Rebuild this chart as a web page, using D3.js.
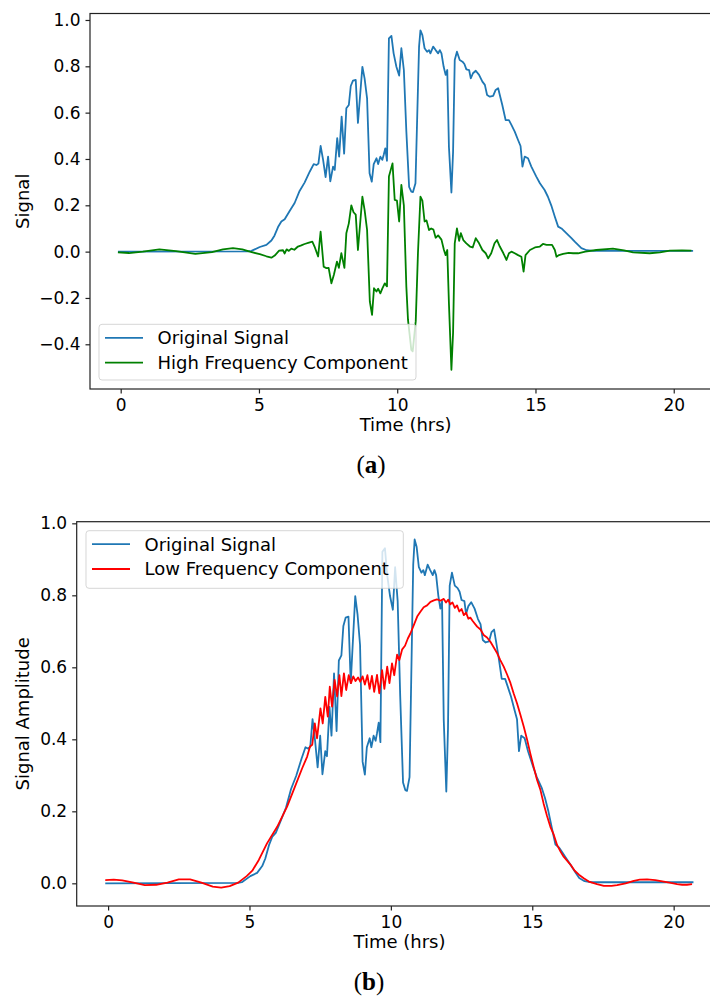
<!DOCTYPE html>
<html>
<head>
<meta charset="utf-8">
<script src="https://cdn.jsdelivr.net/npm/d3@7"></script>
<style>
  body { margin: 0; background: #fff; }
  svg { display: block; font-family: "DejaVu Sans", sans-serif; }
  .tick text { fill: #000; }
  .tick line { stroke: #222; stroke-width: 1.2; }
</style>
</head>
<body>
<svg id="viz"></svg>
<script>
// ---- data ----
const xTicks = [0, 5, 10, 15, 20];
const yTicksTop = [-0.4, -0.2, 0.0, 0.2, 0.4, 0.6, 0.8, 1.0];
const yTicksBottom = [0.0, 0.2, 0.4, 0.6, 0.8, 1.0];

// original signal (same series in both panels)
const origTime = [-0.1, 4.6, 4.73, 5.03, 5.27, 5.45, 5.56, 5.69, 5.81, 5.93, 6.11, 6.29, 6.47, 6.65, 6.84, 6.98,
  7.08, 7.15, 7.23, 7.32, 7.41, 7.5, 7.58, 7.68, 7.74, 7.83, 7.9, 7.99, 8.08, 8.16, 8.25, 8.32, 8.4, 8.5, 8.58,
  8.74, 8.82, 8.91, 9.0, 9.08, 9.15, 9.25, 9.31, 9.39, 9.46, 9.51, 9.57, 9.63, 9.7, 9.79, 9.87, 9.97, 10.07,
  10.15, 10.24, 10.33, 10.43, 10.51, 10.57, 10.66, 10.72, 10.79, 10.84, 10.91, 10.99, 11.08, 11.15, 11.2, 11.3,
  11.39, 11.48, 11.54, 11.6, 11.68, 11.75, 11.81, 11.87, 11.96, 12.02, 12.08, 12.16, 12.26, 12.36, 12.43, 12.5,
  12.6, 12.66, 12.74, 12.84, 12.96, 13.08, 13.17, 13.25, 13.35, 13.47, 13.56, 13.65, 13.71, 13.8, 13.92, 14.04,
  14.13, 14.25, 14.37, 14.46, 14.53, 14.61, 14.73, 14.85, 15.03, 15.16, 15.33, 15.45, 15.57, 15.7, 15.82, 15.94,
  16.06, 16.18, 16.3, 16.42, 16.54, 16.66, 16.85, 17.1, 20.7];
const origValue = [0.0, 0.001, 0.003, 0.02, 0.029, 0.048, 0.069, 0.106, 0.13, 0.14, 0.175, 0.21, 0.262, 0.298, 0.346, 0.378,
  0.374, 0.38, 0.456, 0.396, 0.322, 0.41, 0.303, 0.367, 0.353, 0.49, 0.41, 0.583, 0.423, 0.619, 0.633, 0.715, 0.738, 0.741, 0.556,
  0.798, 0.748, 0.662, 0.338, 0.302, 0.378, 0.403, 0.378, 0.41, 0.396, 0.417, 0.446, 0.392, 0.921, 0.931, 0.856, 0.798, 0.76,
  0.878, 0.784, 0.52, 0.28, 0.259, 0.257, 0.295, 0.568, 0.885, 0.955, 0.935, 0.878, 0.863, 0.87, 0.856, 0.885,
  0.87, 0.856, 0.87, 0.856, 0.798, 0.763, 0.784, 0.453, 0.255, 0.43, 0.827, 0.863, 0.827, 0.82, 0.81, 0.787,
  0.784, 0.748, 0.77, 0.781, 0.763, 0.734, 0.72, 0.676, 0.669, 0.672, 0.698, 0.705, 0.676, 0.633, 0.568, 0.568,
  0.547, 0.518, 0.482, 0.456, 0.367, 0.41, 0.403, 0.367, 0.324, 0.295, 0.266, 0.237, 0.2, 0.151, 0.108, 0.1,
  0.086, 0.072, 0.058, 0.043, 0.029, 0.015, 0.006, 0.003, 0.003];

// high frequency component (panel a)
const highTime = [-0.1, 0.3, 0.8, 1.4, 2.0, 2.7, 3.3, 3.7, 4.06, 4.4, 4.67, 5.03, 5.27, 5.45, 5.57, 5.73, 5.87, 5.93,
  6.0, 6.08, 6.17, 6.28, 6.41, 6.53, 6.65, 6.81, 6.93, 7.01, 7.14, 7.23, 7.34, 7.44, 7.52, 7.62, 7.71, 7.82, 7.89,
  7.98, 8.09, 8.16, 8.25, 8.34, 8.42, 8.5, 8.58, 8.74, 8.82, 8.91, 9.01, 9.09, 9.16, 9.25, 9.31, 9.39, 9.46, 9.55,
  9.63, 9.7, 9.83, 9.91, 9.99, 10.07, 10.15, 10.24, 10.33, 10.39, 10.51, 10.56, 10.67, 10.75, 10.84, 10.91, 10.99,
  11.06, 11.15, 11.23, 11.31, 11.39, 11.48, 11.6, 11.69, 11.75, 11.81, 11.87, 11.96, 12.02, 12.08, 12.16, 12.24,
  12.3, 12.39, 12.5, 12.63, 12.73, 12.84, 12.96, 13.08, 13.2, 13.29, 13.4, 13.52, 13.61, 13.71, 13.84, 13.95, 14.04,
  14.13, 14.25, 14.37, 14.49, 14.57, 14.64, 14.8, 14.98, 15.16, 15.27, 15.4, 15.6, 15.7, 15.76, 15.85, 16.0, 16.2,
  16.36, 16.54, 16.8, 17.2, 17.8, 18.2, 18.53, 19.13, 19.5, 19.86, 20.3, 20.64];
const highValue = [-0.003, -0.006, 0.0, 0.01, 0.002, -0.01, -0.002, 0.01, 0.015, 0.01, 0.0, -0.011, -0.02, -0.026, -0.017, 0.004, 0.006, -0.008,
  0.01, 0.003, 0.013, 0.008, 0.022, 0.027, 0.033, 0.039, 0.043, 0.022, -0.021, 0.086, -0.065, -0.071, -0.07, -0.137, -0.1, -0.043, -0.07,
  -0.007, -0.07, 0.079, 0.122, 0.2, 0.17, 0.16, 0.007, 0.237, 0.18, 0.094, -0.216, -0.273, -0.158, -0.172, -0.16, -0.18, -0.16, -0.137,
  -0.15, 0.324, 0.381, 0.223, 0.22, 0.13, 0.288, 0.2, -0.151, -0.295, -0.424, -0.43, -0.3, -0.007, 0.237, 0.22, 0.13,
  0.135, 0.093, 0.1, 0.095, 0.06, 0.07, 0.052, 0.007, -0.015, 0.007, -0.223, -0.51, -0.35, 0.036, 0.1, 0.047,
  0.08, 0.05, 0.036, 0.022, 0.018, 0.058, 0.036, 0.007, -0.007, -0.029, -0.007, 0.036, 0.05, 0.022, -0.007, -0.036, -0.007,
  0.0, -0.007, -0.015, -0.022, -0.086, -0.015, 0.007, 0.018, 0.022, 0.033, 0.029, 0.029, 0.007, -0.022, -0.015, -0.01, -0.005,
  -0.007, -0.007, 0.0, 0.007, 0.013, 0.005, -0.003, -0.007, -0.003, 0.004, 0.005, 0.004];

// low frequency component (panel b)
const lowTime = [-0.1, 0.2, 0.5, 0.9, 1.3, 1.7, 2.1, 2.5, 2.9, 3.3, 3.7, 4.0, 4.3, 4.6, 4.9, 5.1, 5.33, 5.62, 5.98,
  6.33, 6.56, 6.86, 7.04, 7.14, 7.22, 7.31, 7.39, 7.51, 7.59, 7.68, 7.77, 7.84, 7.92, 8.01, 8.1, 8.18, 8.25, 8.34,
  8.42, 8.51, 8.59, 8.67, 8.75, 8.84, 8.92, 9.0, 9.08, 9.17, 9.25, 9.33, 9.41, 9.51, 9.59, 9.69, 9.77, 9.87, 9.95,
  10.04, 10.12, 10.22, 10.3, 10.4, 10.5, 10.6, 10.69, 10.8, 10.93, 11.05, 11.16, 11.28, 11.4, 11.52, 11.63, 11.75,
  11.87, 11.95, 12.03, 12.1, 12.18, 12.26, 12.34, 12.42, 12.5, 12.58, 12.66, 12.74, 12.81, 12.9, 13.05, 13.17, 13.28,
  13.4, 13.52, 13.64, 13.76, 13.87, 13.99, 14.11, 14.23, 14.34, 14.46, 14.58, 14.7, 14.82, 14.93, 15.05, 15.17, 15.29,
  15.4, 15.52, 15.64, 15.76, 15.88, 16.0, 16.11, 16.23, 16.35, 16.5, 16.65, 16.82, 17.0, 17.29, 17.53, 17.8, 18.0,
  18.3, 18.59, 18.8, 19.06, 19.35, 19.65, 19.9, 20.12, 20.3, 20.47, 20.65];
const lowValue = [0.009, 0.01, 0.008, 0.002, -0.005, -0.004, 0.002, 0.011, 0.011, 0.002, -0.009, -0.012, -0.008, 0.002, 0.02, 0.035, 0.065, 0.111, 0.157,
  0.213, 0.259, 0.319, 0.352, 0.38, 0.385, 0.444, 0.403, 0.486, 0.444, 0.518, 0.463, 0.546, 0.491, 0.565, 0.519, 0.578, 0.52, 0.583,
  0.537, 0.578, 0.556, 0.575, 0.562, 0.572, 0.56, 0.575, 0.552, 0.578, 0.54, 0.576, 0.532, 0.579, 0.528, 0.592, 0.54, 0.602, 0.556,
  0.611, 0.578, 0.635, 0.62, 0.65, 0.66, 0.68, 0.694, 0.715, 0.741, 0.755, 0.767, 0.772, 0.782, 0.786, 0.789, 0.785,
  0.79, 0.78, 0.788, 0.775, 0.78, 0.765, 0.772, 0.755, 0.762, 0.745, 0.752, 0.735, 0.738, 0.728, 0.713, 0.705, 0.69,
  0.683, 0.671, 0.655, 0.639, 0.62, 0.602, 0.58, 0.556, 0.528, 0.5, 0.468, 0.435, 0.398, 0.361, 0.323, 0.287, 0.259,
  0.222, 0.188, 0.157, 0.135, 0.106, 0.088, 0.074, 0.063, 0.052, 0.035, 0.024, 0.014, 0.005, -0.002, -0.007, -0.007, -0.005,
  0.0, 0.007, 0.01, 0.011, 0.009, 0.005, 0.001, -0.002, -0.004, -0.004, -0.002];

function zipSeries(ts, vs) {
  return ts.map((t, i) => ({ t: t, v: vs[i] }));
}

const svg = d3.select("#viz").attr("width", 710).attr("height", 996);

function drawPanel(p) {
  const x = d3.scaleLinear().domain([-1.11, 21.72]).range([p.left, p.right]);
  const y = d3.scaleLinear().domain(p.yDomain).range([p.bottom, p.top]);
  const g = svg.append("g");

  const clipId = "clip-" + p.name;
  g.append("clipPath").attr("id", clipId)
    .append("rect")
    .attr("x", p.left).attr("y", p.top)
    .attr("width", p.right - p.left).attr("height", p.bottom - p.top);

  const line = d3.line().x(d => x(d.t)).y(d => y(d.v));
  const plot = g.append("g").attr("clip-path", "url(#" + clipId + ")");
  p.series.forEach(s => {
    plot.append("path")
      .datum(s.data)
      .attr("fill", "none")
      .attr("stroke", s.color)
      .attr("stroke-width", 1.8)
      .attr("stroke-linejoin", "round")
      .attr("d", line);
  });

  // axes
  const xAxis = g.append("g")
    .attr("transform", "translate(0," + p.bottom + ")")
    .call(d3.axisBottom(x).tickValues(xTicks).tickFormat(d3.format("d")).tickSize(4.5).tickPadding(5));
  xAxis.select(".domain").remove();

  const yAxis = g.append("g")
    .attr("transform", "translate(" + p.left + ",0)")
    .call(d3.axisLeft(y).tickValues(p.yTicks).tickFormat(d3.format(".1f")).tickSize(4.5).tickPadding(5));
  yAxis.select(".domain").remove();
  g.selectAll(".tick text").attr("font-family", "DejaVu Sans").attr("font-size", 17);

  // frame
  g.append("rect")
    .attr("x", p.left).attr("y", p.top)
    .attr("width", p.right - p.left).attr("height", p.bottom - p.top)
    .attr("fill", "none").attr("stroke", "#222").attr("stroke-width", 1.2);

  // labels
  g.append("text")
    .attr("x", (p.left + p.right) / 2).attr("y", p.bottom + 42)
    .attr("text-anchor", "middle").attr("font-size", 18)
    .text("Time (hrs)");
  g.append("text")
    .attr("transform", "translate(29," + (p.top + p.bottom) / 2 + ") rotate(-90)")
    .attr("text-anchor", "middle").attr("font-size", 18)
    .text(p.yLabel);

  // legend
  const lg = g.append("g");
  lg.append("rect")
    .attr("x", p.legend.x).attr("y", p.legend.y)
    .attr("width", p.legend.w).attr("height", p.legend.h)
    .attr("rx", 3)
    .attr("fill", "#fff").attr("fill-opacity", 0.8)
    .attr("stroke", "#ccc").attr("stroke-opacity", 0.8);
  p.series.forEach((s, i) => {
    const ly = p.legend.y + 13.5 + i * 24.8;
    lg.append("line")
      .attr("x1", p.legend.x + 6).attr("x2", p.legend.x + 44)
      .attr("y1", ly).attr("y2", ly)
      .attr("stroke", s.color).attr("stroke-width", 1.8);
    lg.append("text")
      .attr("x", p.legend.x + 58.5).attr("y", ly).attr("dy", "0.35em")
      .attr("font-size", 18)
      .text(s.label);
  });

  // caption
  const cap = svg.append("text")
    .attr("x", p.captionX).attr("y", p.captionY)
    .attr("text-anchor", "middle")
    .attr("font-family", "Liberation Serif, serif").attr("font-size", 25);
  cap.append("tspan").text("(");
  cap.append("tspan").attr("font-weight", "bold").text(p.caption);
  cap.append("tspan").text(")");
}

drawPanel({
  name: "a",
  left: 90, right: 721.3, top: 13.5, bottom: 389,
  yDomain: [-0.593, 1.028], yTicks: yTicksTop, yLabel: "Signal",
  series: [
    { label: "Original Signal", color: "#1f77b4", data: zipSeries(origTime, origValue) },
    { label: "High Frequency Component", color: "green", data: zipSeries(highTime, highValue) }
  ],
  legend: { x: 99, y: 324.3, w: 317, h: 55.7 },
  caption: "a", captionX: 371, captionY: 473
});

drawPanel({
  name: "b",
  left: 76.7, right: 722.3, top: 521.7, bottom: 906,
  yDomain: [-0.063, 1.0045], yTicks: yTicksBottom, yLabel: "Signal Amplitude",
  series: [
    { label: "Original Signal", color: "#1f77b4", data: zipSeries(origTime, origValue) },
    { label: "Low Frequency Component", color: "red", data: zipSeries(lowTime, lowValue) }
  ],
  legend: { x: 86, y: 530.7, w: 317.3, h: 57.6 },
  caption: "b", captionX: 369, captionY: 990
});
</script>
</body>
</html>
